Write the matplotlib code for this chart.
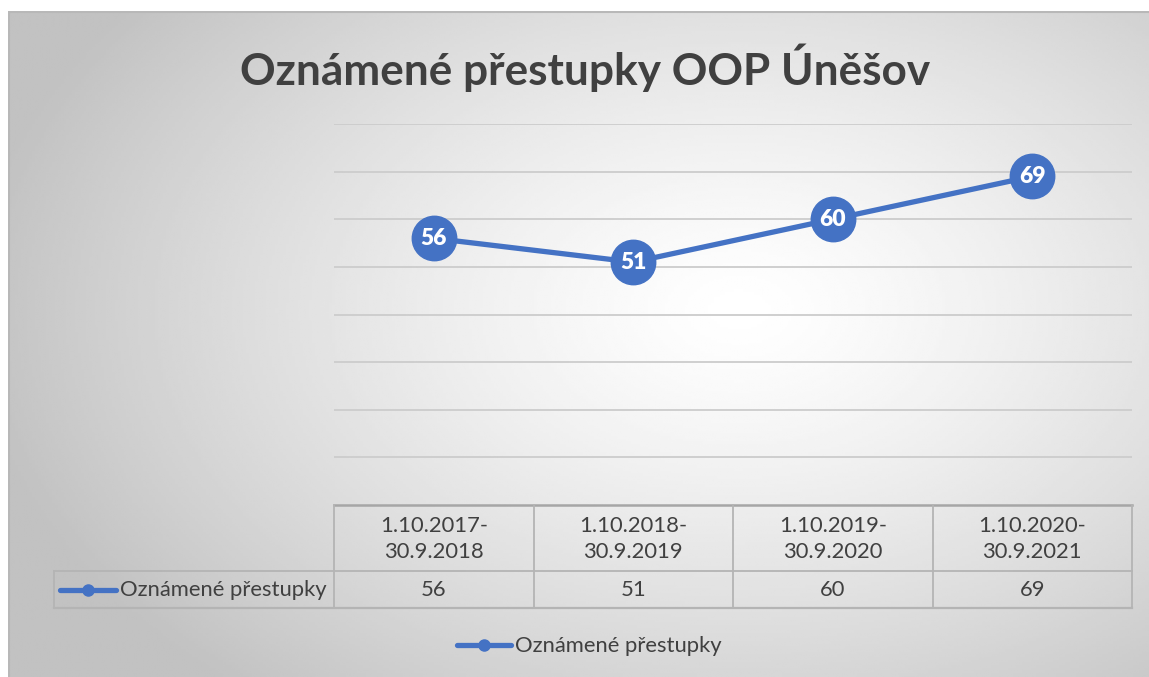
import numpy as np
import matplotlib
matplotlib.use("Agg")
import matplotlib.pyplot as plt
from matplotlib.lines import Line2D

plt.rcParams['font.family'] = ['Lato', 'DejaVu Sans']

# data
periods = ["1.10.2017-\n30.9.2018", "1.10.2018-\n30.9.2019",
           "1.10.2019-\n30.9.2020", "1.10.2020-\n30.9.2021"]
values = [56, 51, 60, 69]
series_name = "Oznámené přestupky"
title = "Oznámené přestupky OOP Úněšov"

W, H = 1149, 677
blue = '#4472C4'
txt = '#404040'
fs = 15.8

fig = plt.figure(figsize=(W / 100, H / 100), dpi=100)
fig.patch.set_facecolor('white')

# radial grey background of the chart area
bg = fig.add_axes([8 / W, 0, 1 - 8 / W, (H - 11) / H], zorder=0)
gx, gy = np.meshgrid(np.linspace(8, W, 400), np.linspace(11, H, 250))
d = np.sqrt(((gx - 740) / 720) ** 2 + ((gy - 310) / 470) ** 2)
shade = np.clip(1.0 - 0.22 * d ** 1.3, 0.76, 1.0)
bg.imshow(shade, cmap='gray', vmin=0, vmax=1, aspect='auto',
          extent=[8, W, H, 11], interpolation='bilinear')
bg.set_xlim(8, W)
bg.set_ylim(H, 11)
bg.axis('off')
bg.plot([8, W], [11.5, 11.5], color='#b8b8b8', lw=1.5)
bg.plot([8.5, 8.5], [11, H], color='#b8b8b8', lw=1.5)

# main plot area
left, right, top, bottom = 334, 1132, 124, 505
ax = fig.add_axes([left / W, 1 - bottom / H, (right - left) / W, (bottom - top) / H], zorder=2)
ax.set_facecolor('none')
x = np.arange(len(values))
ax.set_xlim(-0.5, len(values) - 0.5)
ax.set_ylim(0, 80)
for g in range(10, 81, 10):
    ax.axhline(g, color='#cccccc', lw=1.3, zorder=1)
ax.plot(x, values, color=blue, lw=3.8, marker='o', markersize=32,
        markerfacecolor=blue, markeredgecolor=blue, zorder=3)
for xi, v in zip(x, values):
    ax.text(xi, v, str(v), color='white', fontsize=16.5, fontweight='heavy',
            ha='center', va='center', zorder=4)
ax.set_xticks([])
ax.set_yticks([])
for s in ['top', 'right', 'left']:
    ax.spines[s].set_visible(False)
ax.spines['bottom'].set_color('#a6a6a6')
ax.spines['bottom'].set_linewidth(1.8)

# data table drawn in pixel space
tab = fig.add_axes([0, 0, 1, 1], zorder=3)
tab.set_xlim(0, W)
tab.set_ylim(H, 0)
tab.axis('off')
n = len(values)
col_w = (right - left) / n
row1_bot, row2_bot, label_left = 571, 608, 54
lc = '#b4b4b4'
for i in range(n + 1):
    cx = left + i * col_w
    tab.plot([cx, cx], [bottom, row2_bot], color=lc, lw=1.3)
tab.plot([label_left, right], [row1_bot, row1_bot], color=lc, lw=1.3)
tab.plot([label_left, right], [row2_bot, row2_bot], color=lc, lw=1.6)
tab.plot([label_left, label_left], [row1_bot, row2_bot], color=lc, lw=1.3)
for i, (p, v) in enumerate(zip(periods, values)):
    cx = left + (i + 0.5) * col_w
    tab.text(cx, (bottom + row1_bot) / 2 + 1, p, ha='center', va='center',
             fontsize=fs, color=txt, linespacing=1.38)
    tab.text(cx, (row1_bot + row2_bot) / 2 + 1, str(v), ha='center', va='center',
             fontsize=fs, color=txt)

ym = (row1_bot + row2_bot) / 2
tab.add_line(Line2D([60, 116], [ym, ym], color=blue, lw=3.8, solid_capstyle='round'))
tab.plot([88], [ym], 'o', color=blue, markersize=8)
tab.text(120, ym + 1, series_name, ha='left', va='center', fontsize=fs, color=txt)

# legend
ly = 645
tab.add_line(Line2D([457, 511], [ly, ly], color=blue, lw=3.8, solid_capstyle='round'))
tab.plot([484], [ly], 'o', color=blue, markersize=8)
tab.text(515, ly + 1, series_name, ha='left', va='center', fontsize=fs, color=txt)

fig.text(585 / W, 1 - 68 / H, title, ha='center', va='center', fontsize=31.8,
         fontweight='bold', color=txt, zorder=5)

fig.savefig('out.png', dpi=100)
